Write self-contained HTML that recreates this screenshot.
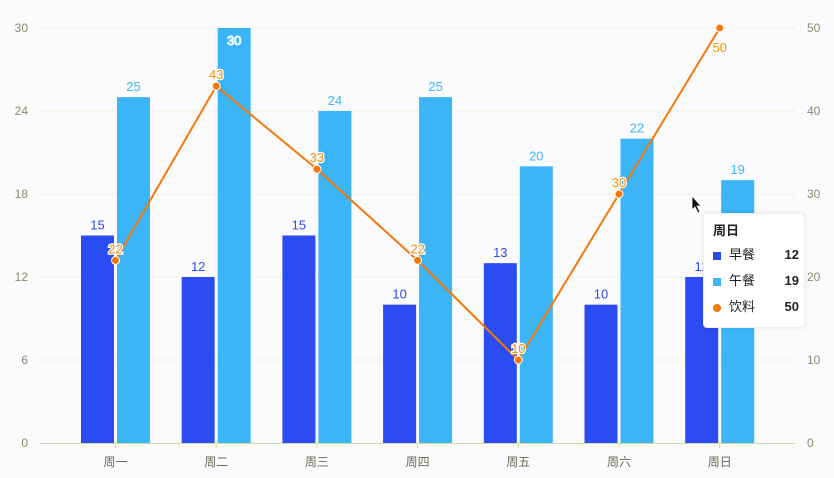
<!DOCTYPE html>
<html><head><meta charset="utf-8">
<style>
body{margin:0;background:#fbfbfd;font-family:"Liberation Sans","Noto Sans CJK SC",sans-serif;}
svg text{font-family:"Liberation Sans","Noto Sans CJK SC",sans-serif;}
#tip{position:absolute;left:703px;top:213px;width:100px;height:113px;background:#fff;border:1px dotted #ddd;border-radius:4px;box-shadow:0 0 6px rgba(0,0,0,0.08);font-size:13px;color:#222;}
#tip .t{position:absolute;left:9px;top:6px;font-weight:bold}
#tip .r{position:absolute;left:9px;width:86px;height:20px;line-height:20px}
#tip .r span.v{position:absolute;right:0;font-weight:bold}
#tip .m{display:inline-block;width:8px;height:8px;margin-right:8px;vertical-align:middle}
</style></head><body>
<svg id="chart" width="834" height="478" style="position:absolute;left:0;top:0"></svg>
<div id="tip">
<div class="t">周日</div>
<div class="r" style="top:31px"><span class="m" style="background:#2a4cf2"></span>早餐<span class="v">12</span></div>
<div class="r" style="top:57px"><span class="m" style="background:#3bb4f8"></span>午餐<span class="v">19</span></div>
<div class="r" style="top:83px"><span class="m" style="background:#f5780a;border-radius:50%"></span>饮料<span class="v">50</span></div>
</div>
<script>
const categories=["周一","周二","周三","周四","周五","周六","周日"];
const breakfast=[15,12,15,10,13,10,12];
const lunch=[25,30,24,25,20,22,19];
const drink=[22,43,33,22,10,30,50];
const leftTicks=[0,6,12,18,24,30];
const rightTicks=[0,10,20,30,40,50];
const svg=document.getElementById('chart');
const NS='http://www.w3.org/2000/svg';
const y0=443,yTop=28;
const yL=v=>y0-(v/30)*(y0-yTop);
const yR=v=>y0-(v/50)*(y0-yTop);
const xC=i=>115.5+i*100.7;
function mk(tag,attrs,txt){const e=document.createElementNS(NS,tag);for(const k in attrs)e.setAttribute(k,attrs[k]);if(txt!==undefined)e.textContent=txt;svg.appendChild(e);return e;}
leftTicks.forEach((t,i)=>{
  if(t>0){const g=mk('line',{x1:40,x2:795,y1:yL(t),y2:yL(t),stroke:'#e4e8c8','stroke-dasharray':'2,2'});
  
  }
  const l=mk('text',{x:28,y:yL(t)+4,'text-anchor':'end','font-size':12,fill:'#8a8a70'},t);
  
  
});
rightTicks.forEach(t=>{
  const l=mk('text',{x:807,y:yR(t)+4,'font-size':12,fill:'#8a8a70'},t);
  
  
});
const ax=mk('line',{x1:40,x2:795,y1:y0+0.5,y2:y0+0.5,stroke:'#cfdca8'});


categories.forEach((c,i)=>{
  const tk=mk('line',{x1:xC(i),x2:xC(i),y1:y0,y2:y0+5,stroke:'#cfdca8'});
  
  
  const l=mk('text',{x:xC(i),y:466,'text-anchor':'middle','font-size':12,fill:'#6a6a5a'},c);
  
  
  const b=mk('rect',{x:xC(i)-34.5,y:yL(breakfast[i]),width:33,height:y0-yL(breakfast[i]),fill:'#2a4cf2'});
  
  
  const bl=mk('text',{x:xC(i)-18,y:yL(breakfast[i])-6,'text-anchor':'middle','font-size':13,fill:'#2a4cf2'},breakfast[i]);
  
  
  const lb=mk('rect',{x:xC(i)+1.5,y:yL(lunch[i]),width:33,height:y0-yL(lunch[i]),fill:'#3bb4f8'});
  
  
  const inside=lunch[i]>=30;
  const ll=mk('text',{x:xC(i)+18,y:inside?yL(lunch[i])+17:yL(lunch[i])-6,'text-anchor':'middle','font-size':13,fill:inside?'#3bb4f8':'#3bb4f8',stroke:inside?'#fff':'none','stroke-width':inside?1:0},lunch[i]);
  
  
});
const pts=drink.map((v,i)=>xC(i)+','+yR(v)).join(' ');
const pl=mk('polyline',{points:pts,fill:'none',stroke:'#f5780a','stroke-width':2});


drink.forEach((v,i)=>{
  const c=mk('circle',{cx:xC(i),cy:yR(v),r:4,fill:'#f5780a',stroke:'#fff','stroke-width':1});
  
  
  const up=(i===6)?-1:1;
  const t=mk('text',{x:xC(i),y:i===6?yR(v)+24:yR(v)-7,'text-anchor':'middle','font-size':13,fill:'#f5900a',stroke:'#fff','stroke-width':2.5,'paint-order':'stroke'},v);
  
  
});
const cur=mk('path',{d:'M692 196 L692 210 L695 207 L698 213 L700 212 L697 206 L701 206 Z',fill:'#111',stroke:'#fff','stroke-width':0.8});


</script>
</body></html>
